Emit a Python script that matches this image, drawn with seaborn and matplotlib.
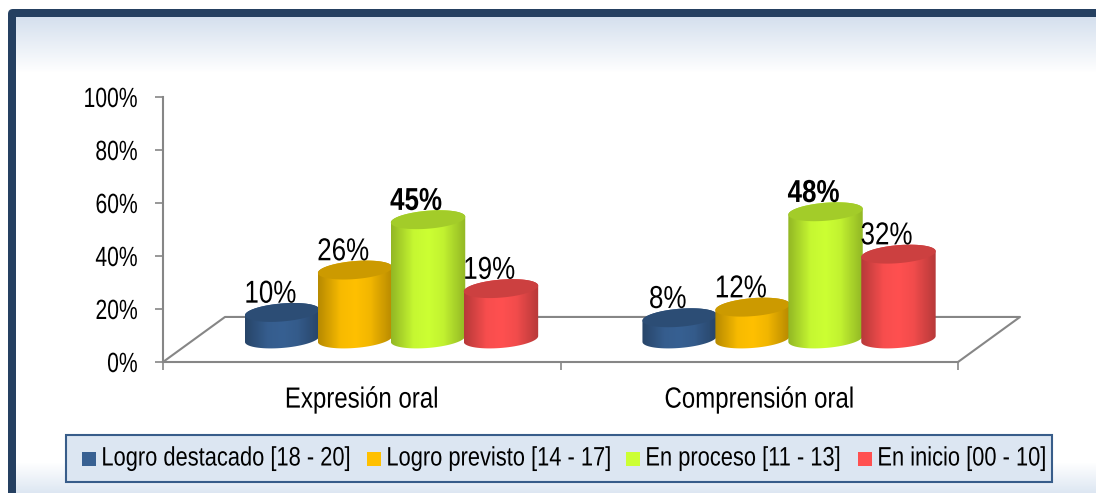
import matplotlib
matplotlib.use('Agg')
import matplotlib.pyplot as plt
import numpy as np
import pandas as pd
import seaborn as sns
from matplotlib.colors import LinearSegmentedColormap, to_rgb
from matplotlib.patches import FancyBboxPatch, PathPatch, Rectangle
from matplotlib.patheffects import AbstractPathEffect
from matplotlib.path import Path
from matplotlib.transforms import Affine2D

# --- datos ---
competencias = ['Expresión oral', 'Comprensión oral']
niveles = ['Logro destacado [18 - 20]', 'Logro previsto [14 - 17]',
           'En proceso [11 - 13]', 'En inicio [00 - 10]']
logro_destacado = [10, 8]
logro_previsto = [26, 12]
en_proceso = [45, 48]
en_inicio = [19, 32]
y_ticks = [0, 20, 40, 60, 80, 100]

colores = ['#376092', '#FFC000', '#CCFF33', '#FF5050']
GRIS = '#868686'
NAVY = '#254061'

df = pd.DataFrame({
    'competencia': competencias * 4,
    'nivel': np.repeat(niveles, 2),
    'valor': logro_destacado + logro_previsto + en_proceso + en_inicio,
})


class Angosto(AbstractPathEffect):
    """Estrecha el texto en horizontal (no hay Arial Narrow instalada)."""

    def __init__(self, k, ancla=0.0):
        super().__init__()
        self.k = k
        self.ancla = ancla

    def draw_path(self, renderer, gc, tpath, affine, rgbFace=None):
        ext = tpath.get_extents()
        xa = ext.x0 + ext.width * self.ancla
        aff = Affine2D().translate(-xa, 0).scale(self.k, 1).translate(xa, 0) + affine
        renderer.draw_path(gc, tpath, aff, rgbFace)


W, H = 1096, 493
sns.set_style('white')
plt.rcParams['font.family'] = ['Liberation Sans', 'DejaVu Sans']
fig = plt.figure(figsize=(W / 100, H / 100), dpi=100, facecolor='white')

# --- marco y degradado de fondo (en pixeles) ---
bg = fig.add_axes([0, 0, 1, 1], zorder=0)
bg.axis('off')
bg.add_patch(FancyBboxPatch((11, 12), W + 40, H + 40, boxstyle='round,pad=3,rounding_size=5',
                            fc=NAVY, ec='none'))
grad = np.ones((H, 1, 3))
tope = np.array(to_rgb('#D5E0EE'))
pie = np.array(to_rgb('#DCE6F2'))
for fila in range(H):
    if fila < 72:
        t = max(0, (72 - fila) / (72 - 17))
        grad[fila, 0] = 1 + (tope - 1) * t
    elif fila > 462:
        t = (fila - 462) / (H - 462)
        grad[fila, 0] = 1 + (pie - 1) * t
bg.imshow(grad[17:], extent=(15.5, W, H, 17), aspect='auto', zorder=2)
bg.set_xlim(0, W)
bg.set_ylim(H, 0)

# --- ejes principales ---
ax = fig.add_axes([163 / W, 1 - 362 / H, 795 / W, 265 / H], zorder=1)
ax.patch.set_visible(False)
sns.barplot(data=df, x='competencia', y='valor', hue='nivel', order=competencias,
            hue_order=niveles, palette=colores, saturation=1, width=0.734, gap=0,
            errorbar=None, legend=False, ax=ax)
ax.set_xlim(-0.5, 1.5)
ax.set_ylim(0, 100)
ax.set_autoscale_on(False)
ax.set_xlabel('')
ax.set_ylabel('')
ax.set_yticks(y_ticks)
ax.set_yticklabels([f'{v}%' for v in y_ticks], fontsize=20, color='black')
ax.set_xticks(range(len(competencias)))
ax.set_xticklabels(competencias, fontsize=21, color='black')
ax.set_xticks([-0.5, 0.5, 1.5], minor=True)
ax.tick_params(axis='x', which='major', length=0, pad=17)
ax.tick_params(axis='x', which='minor', length=6, width=1.2, color=GRIS, bottom=True)
ax.tick_params(axis='y', length=6, width=1.2, color=GRIS, left=True, pad=12)
for lab in ax.get_yticklabels():
    lab.set_path_effects([Angosto(0.76, 1.0)])
for lab in ax.get_xticklabels():
    lab.set_path_effects([Angosto(0.824, 0.5)])
sns.despine(ax=ax)
for lado in ['left', 'bottom']:
    ax.spines[lado].set_color(GRIS)
    ax.spines[lado].set_linewidth(1.5)

# piso en perspectiva
prof_x, prof_y = 0.156, 17
ax.plot([-0.5, -0.5 + prof_x, 1.5 + prof_x, 1.5], [0, prof_y, prof_y, 0],
        color=GRIS, lw=1.5, clip_on=False, zorder=1)

# --- cilindros sobre las barras de seaborn ---
base, shift_x = 8.7, 0.075
semi_b, tilt = 3.4, 1.1
t_sup = np.linspace(0, 2 * np.pi, 80)


def elipse(cx, cy, a, t):
    return np.column_stack([cx + a * np.cos(t), cy + semi_b * np.sin(t) + tilt * np.cos(t)])


for i, cont in enumerate(ax.containers):
    color = np.array(to_rgb(colores[i]))
    oscuro = color * 0.72
    cmap = LinearSegmentedColormap.from_list(
        'cil', [(0, oscuro), (0.3, color * 0.97), (0.5, color), (0.7, color * 0.95), (1, oscuro)])
    for j, bar in enumerate(cont):
        valor = bar.get_height()
        a = bar.get_width() / 2 * 1.02
        cx = bar.get_x() + bar.get_width() / 2 + shift_x
        y_top = base + valor
        bar.set_visible(False)

        # cuerpo: mitad inferior de la base y mitad trasera de la tapa
        abajo = elipse(cx, base, a, np.linspace(np.pi, 2 * np.pi, 40))
        arriba = elipse(cx, y_top, a, np.linspace(0, np.pi, 40))
        verts = np.vstack([abajo, arriba, abajo[:1]])
        cuerpo = PathPatch(Path(verts), transform=ax.transData, fc='none', ec='none')
        ax.add_patch(cuerpo)
        im = ax.imshow(np.linspace(0, 1, 64)[None, :], cmap=cmap, aspect='auto',
                       extent=(cx - a, cx + a, 0, 100), zorder=3 + i)
        im.set_clip_path(cuerpo)
        tapa = elipse(cx, y_top, a, t_sup)
        ax.fill(tapa[:, 0], tapa[:, 1], color=color * 0.8, lw=0, zorder=3 + i)

        es_max = valor == df[df['competencia'] == competencias[j]]['valor'].max()
        txt = ax.annotate(f'{valor:.0f}%', (cx, y_top), xytext=(-8.6, 12.8), textcoords='offset points',
                          ha='center', va='center', fontsize=22.8, color='black',
                          fontweight='bold' if es_max else 'normal', zorder=10)
        txt.set_path_effects([Angosto(0.82, 0.5)])
ax.set_xlim(-0.5, 1.5)
ax.set_ylim(0, 100)

# --- leyenda (a mano: el texto estrecho no cabe en el layout de Legend) ---
bg.add_patch(Rectangle((66, 435), 986, 47, fc='#DCE6F2', ec='#385D8A', lw=1.5, zorder=5))
cuadro_x = [82, 367, 626, 858]
texto_x = [101, 386, 645, 877]
for nivel, color, xc, xt in zip(niveles, colores, cuadro_x, texto_x):
    bg.add_patch(Rectangle((xc, 452), 14, 14, fc=color, ec='none', zorder=6))
    txt = bg.text(xt, 458.5, nivel, ha='left', va='center', fontsize=19.2, color='black', zorder=6)
    txt.set_path_effects([Angosto(0.82, 0.0)])

fig.savefig('out.png', dpi=100)
